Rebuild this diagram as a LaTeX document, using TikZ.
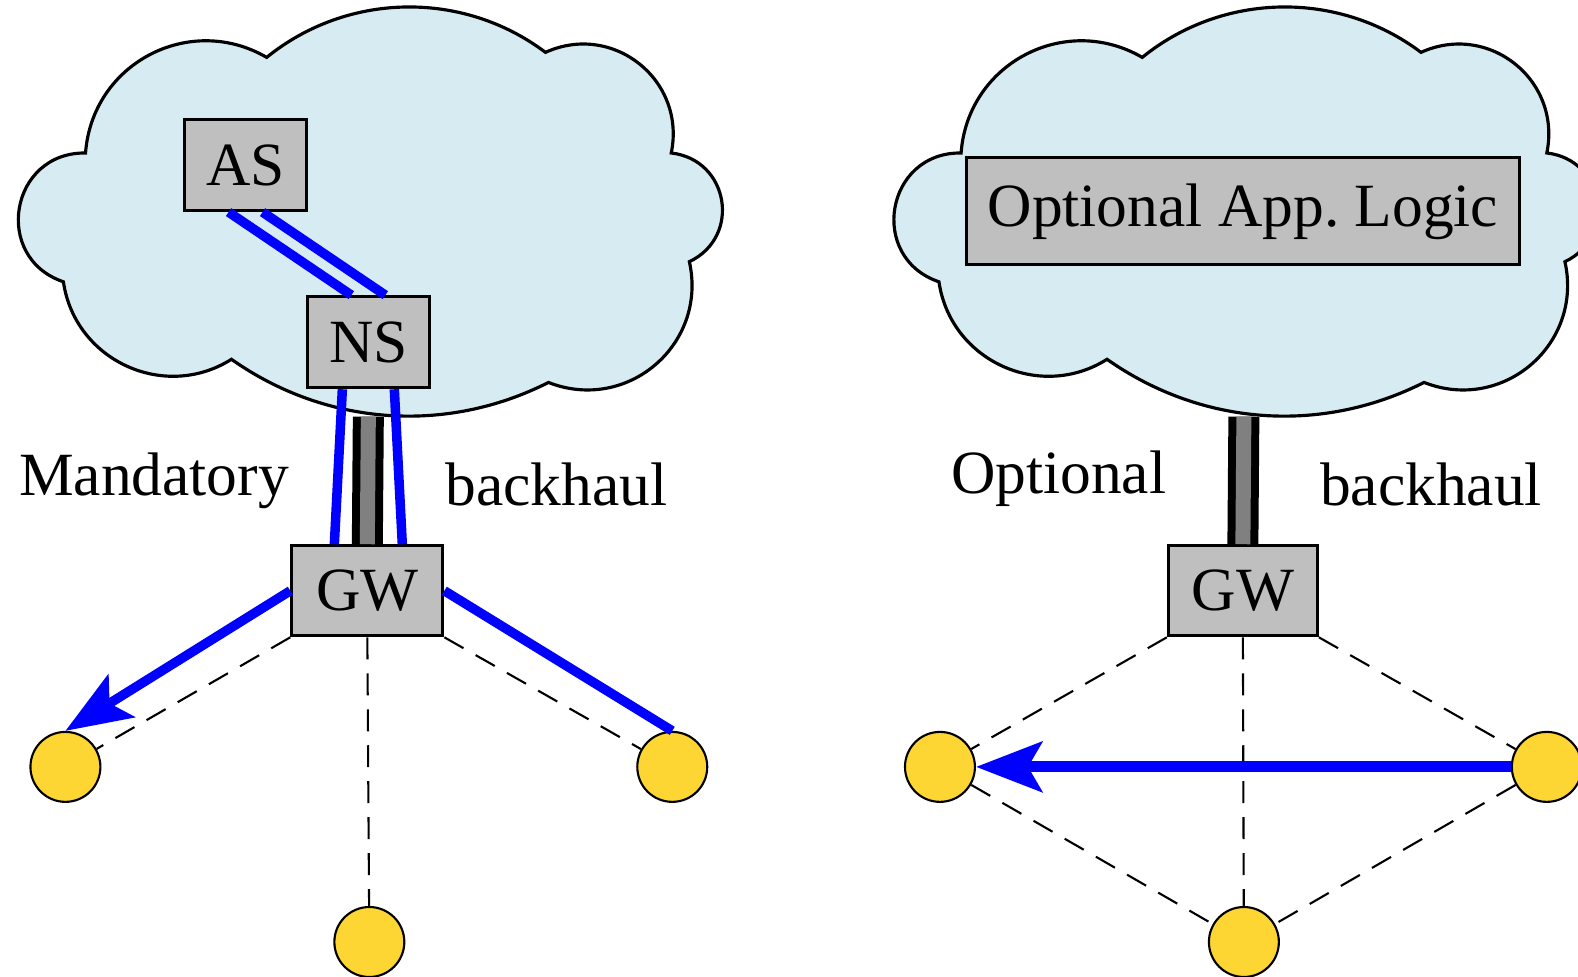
\documentclass[tikz,border=0pt]{standalone}
\usepackage{fontspec}
\setmainfont{Liberation Serif}
\usetikzlibrary{arrows.meta}
\definecolor{skyfill}{RGB}{215,236,242}
\definecolor{boxgray}{RGB}{191,191,191}
\definecolor{motegold}{RGB}{253,214,51}

\begin{document}
\begin{tikzpicture}[y=-0.010064cm,x=0.010064cm,font=\fontsize{17.5}{21}\selectfont]
        \tikzset{
            netcloud/.pic={
                \draw[draw=black,line width=0.9pt,fill=skyfill]
                    (63,280) to[bend left=81,looseness=1.48] (85,152)
                    to[bend left=58,looseness=1.12] (265,57)
                    to[bend left=38,looseness=0.95] (542,52)
                    to[bend left=63,looseness=1.18] (667,152)
                    to[bend left=74,looseness=1.35] (685,260)
                    to[bend left=62,looseness=1.17] (545,380)
                    to[bend left=31,looseness=0.93] (230,357)
                    to[bend left=57,looseness=1.1] (63,280) -- cycle;
                \coordinate (-base) at (366,414);
            },
            server/.style={rectangle,draw=black,line width=0.9pt,fill=boxgray,inner sep=0pt,minimum width=1.22cm,minimum height=0.91cm},
            mote/.style={circle,draw=black,line width=0.6pt,fill=motegold,minimum size=0.7cm,inner sep=0pt},
            link/.style={draw=blue,line width=0.095cm},
            radio/.style={dash pattern=on 0.22cm off 0.14cm,line width=0.6pt},
            backhaul/.style={draw=black,line width=0.31cm,postaction={draw=gray,line width=0.15cm}},
            bigtip/.style={-{Stealth[length=0.66cm,width=0.5cm,inset=0.14cm]}}
        }
        \useasboundingbox (0,0) rectangle (1568,970);

        % left: mandatory backhaul
        \pic (cloudL) at (0,0) {netcloud};
        \node[server] (as) at (244,164) {AS};
        \node[server] (ns) at (366,340) {NS};
        \node[server,minimum width=1.51cm,minimum height=0.9cm] (gwL) at (365,587) {GW};
        \node[mote] (mL1) at (65,762) {};
        \node[mote] (mL2) at (367,936) {};
        \node[mote] (mL3) at (668,762) {};
        \node (mand) at (153,478) {Mandatory};
        \node (bhL) at (553,481) {backhaul};

        \draw[backhaul] (cloudL-base) -- (gwL.north);
        \draw[link] ([xshift=-0.17cm]as.south) -- ([xshift=-0.17cm]ns.north);
        \draw[link] ([xshift=0.17cm]as.south) -- ([xshift=0.17cm]ns.north);
        \draw[link] ([xshift=-0.26cm]ns.south) -- ([xshift=-0.33cm]gwL.north);
        \draw[link] ([xshift=0.26cm]ns.south) -- ([xshift=0.35cm]gwL.north);
        \draw[radio] (gwL.south west) -- (mL1);
        \draw[radio] (gwL.south) -- (mL2);
        \draw[radio] (gwL.south east) -- (mL3);
        \draw[link,bigtip] (gwL.west) -- (mL1.north);
        \draw[link] (gwL.east) -- (mL3.north);

        % right: optional backhaul
        \pic (cloudR) at (870,0) {netcloud};
        \node[server,minimum width=5.53cm,minimum height=1.07cm] (logic) at (1235,210) {Optional App.\ Logic};
        \node[server,minimum width=1.49cm,minimum height=0.9cm] (gwR) at (1235,587) {GW};
        \node[mote] (mR1) at (934,762) {};
        \node[mote] (mR2) at (1236,936) {};
        \node[mote] (mR3) at (1537,762) {};
        \node (opt) at (1052,476) {Optional};
        \node (bhR) at (1422,481) {backhaul};

        \draw[backhaul] (cloudR-base) -- (gwR.north);
        \draw[radio] (gwR.south west) -- (mR1);
        \draw[radio] (gwR.south) -- (mR2);
        \draw[radio] (gwR.south east) -- (mR3);
        \draw[radio] (mR1) -- (mR2);
        \draw[radio] (mR3) -- (mR2);
        \draw[link,line width=0.11cm,bigtip] (mR3) -- (mR1);
    \end{tikzpicture}
\end{document}
